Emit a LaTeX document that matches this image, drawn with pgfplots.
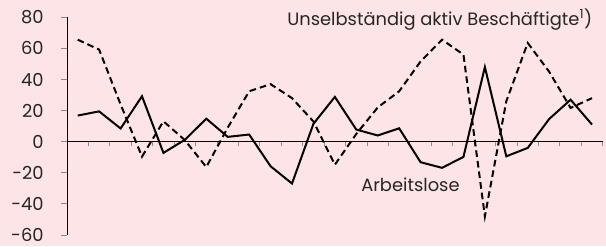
\documentclass[border=0pt]{standalone}
\usepackage{fontspec}
\setmainfont{Poppins}
\usepackage{pgfplots}
\pgfplotsset{compat=1.18}
\definecolor{bg}{RGB}{253,228,230}
\definecolor{tk}{RGB}{140,140,140}
\begin{document}
\begin{tikzpicture}[x=1pt,y=1pt]
\fill[bg] (0,0) rectangle (454.5,184.5);
\begin{axis}[
  at={(50.25pt,8.25pt)}, anchor=south west,
  scale only axis, width=401.8pt, height=163.3pt,
  xmin=-0.5, xmax=24.5, ymin=-60, ymax=80,
  axis x line*=middle, axis y line*=left,
  axis line style={-, black, line width=0.6pt},
  xtick={-0.5,0.5,...,24.5}, xticklabels={},
  ytick={-60,-40,...,80},
  tick align=outside,
  major tick length=3.5pt,
  tick style={tk, line width=0.6pt},
  ytick style={/pgfplots/major tick length=4.5pt},
  /pgf/number format/assume math mode=true,
  yticklabel style={font=\fontsize{13.4}{15}\selectfont, text=black!85, xshift=-10.5pt},
  clip=false,
]
\addplot[black, line width=1.5pt, dash pattern=on 5pt off 3pt] coordinates {
(0,65.6)(1,59.2)(2,24)(3,-9.6)(4,13.1)(5,1)(6,-16.3)(7,9)(8,32.4)(9,37)
(10,28)(11,13)(12,-14.8)(13,5)(14,22)(15,32.4)(16,51.6)(17,65.6)(18,56)(19,-48)
(20,26)(21,63.5)(22,45)(23,21.7)(24,28)};
\addplot[black, line width=1.5pt] coordinates {
(0,16.8)(1,19.5)(2,8.5)(3,29.2)(4,-7.2)(5,1.2)(6,14.8)(7,3.1)(8,4.6)(9,-15.8)
(10,-26.9)(11,11.5)(12,28.8)(13,7.8)(14,4)(15,8.6)(16,-13.2)(17,-16.8)(18,-9.8)(19,48)
(20,-9.4)(21,-4)(22,14.6)(23,27)(24,11)};
\node[anchor=base west, inner sep=0pt, font=\fontsize{13.4}{15}\selectfont, text=black!85] at (axis cs:9.77,74.6) {Unselbständig aktiv Beschäftigte\textsuperscript{1})};
\node[anchor=base west, inner sep=0pt, font=\fontsize{13.4}{15}\selectfont, text=black!85] at (axis cs:13.22,-31.9) {Arbeitslose};
\end{axis}
\pgfresetboundingbox
\useasboundingbox (0,0) rectangle (454.5,184.5);
\end{tikzpicture}
\end{document}
